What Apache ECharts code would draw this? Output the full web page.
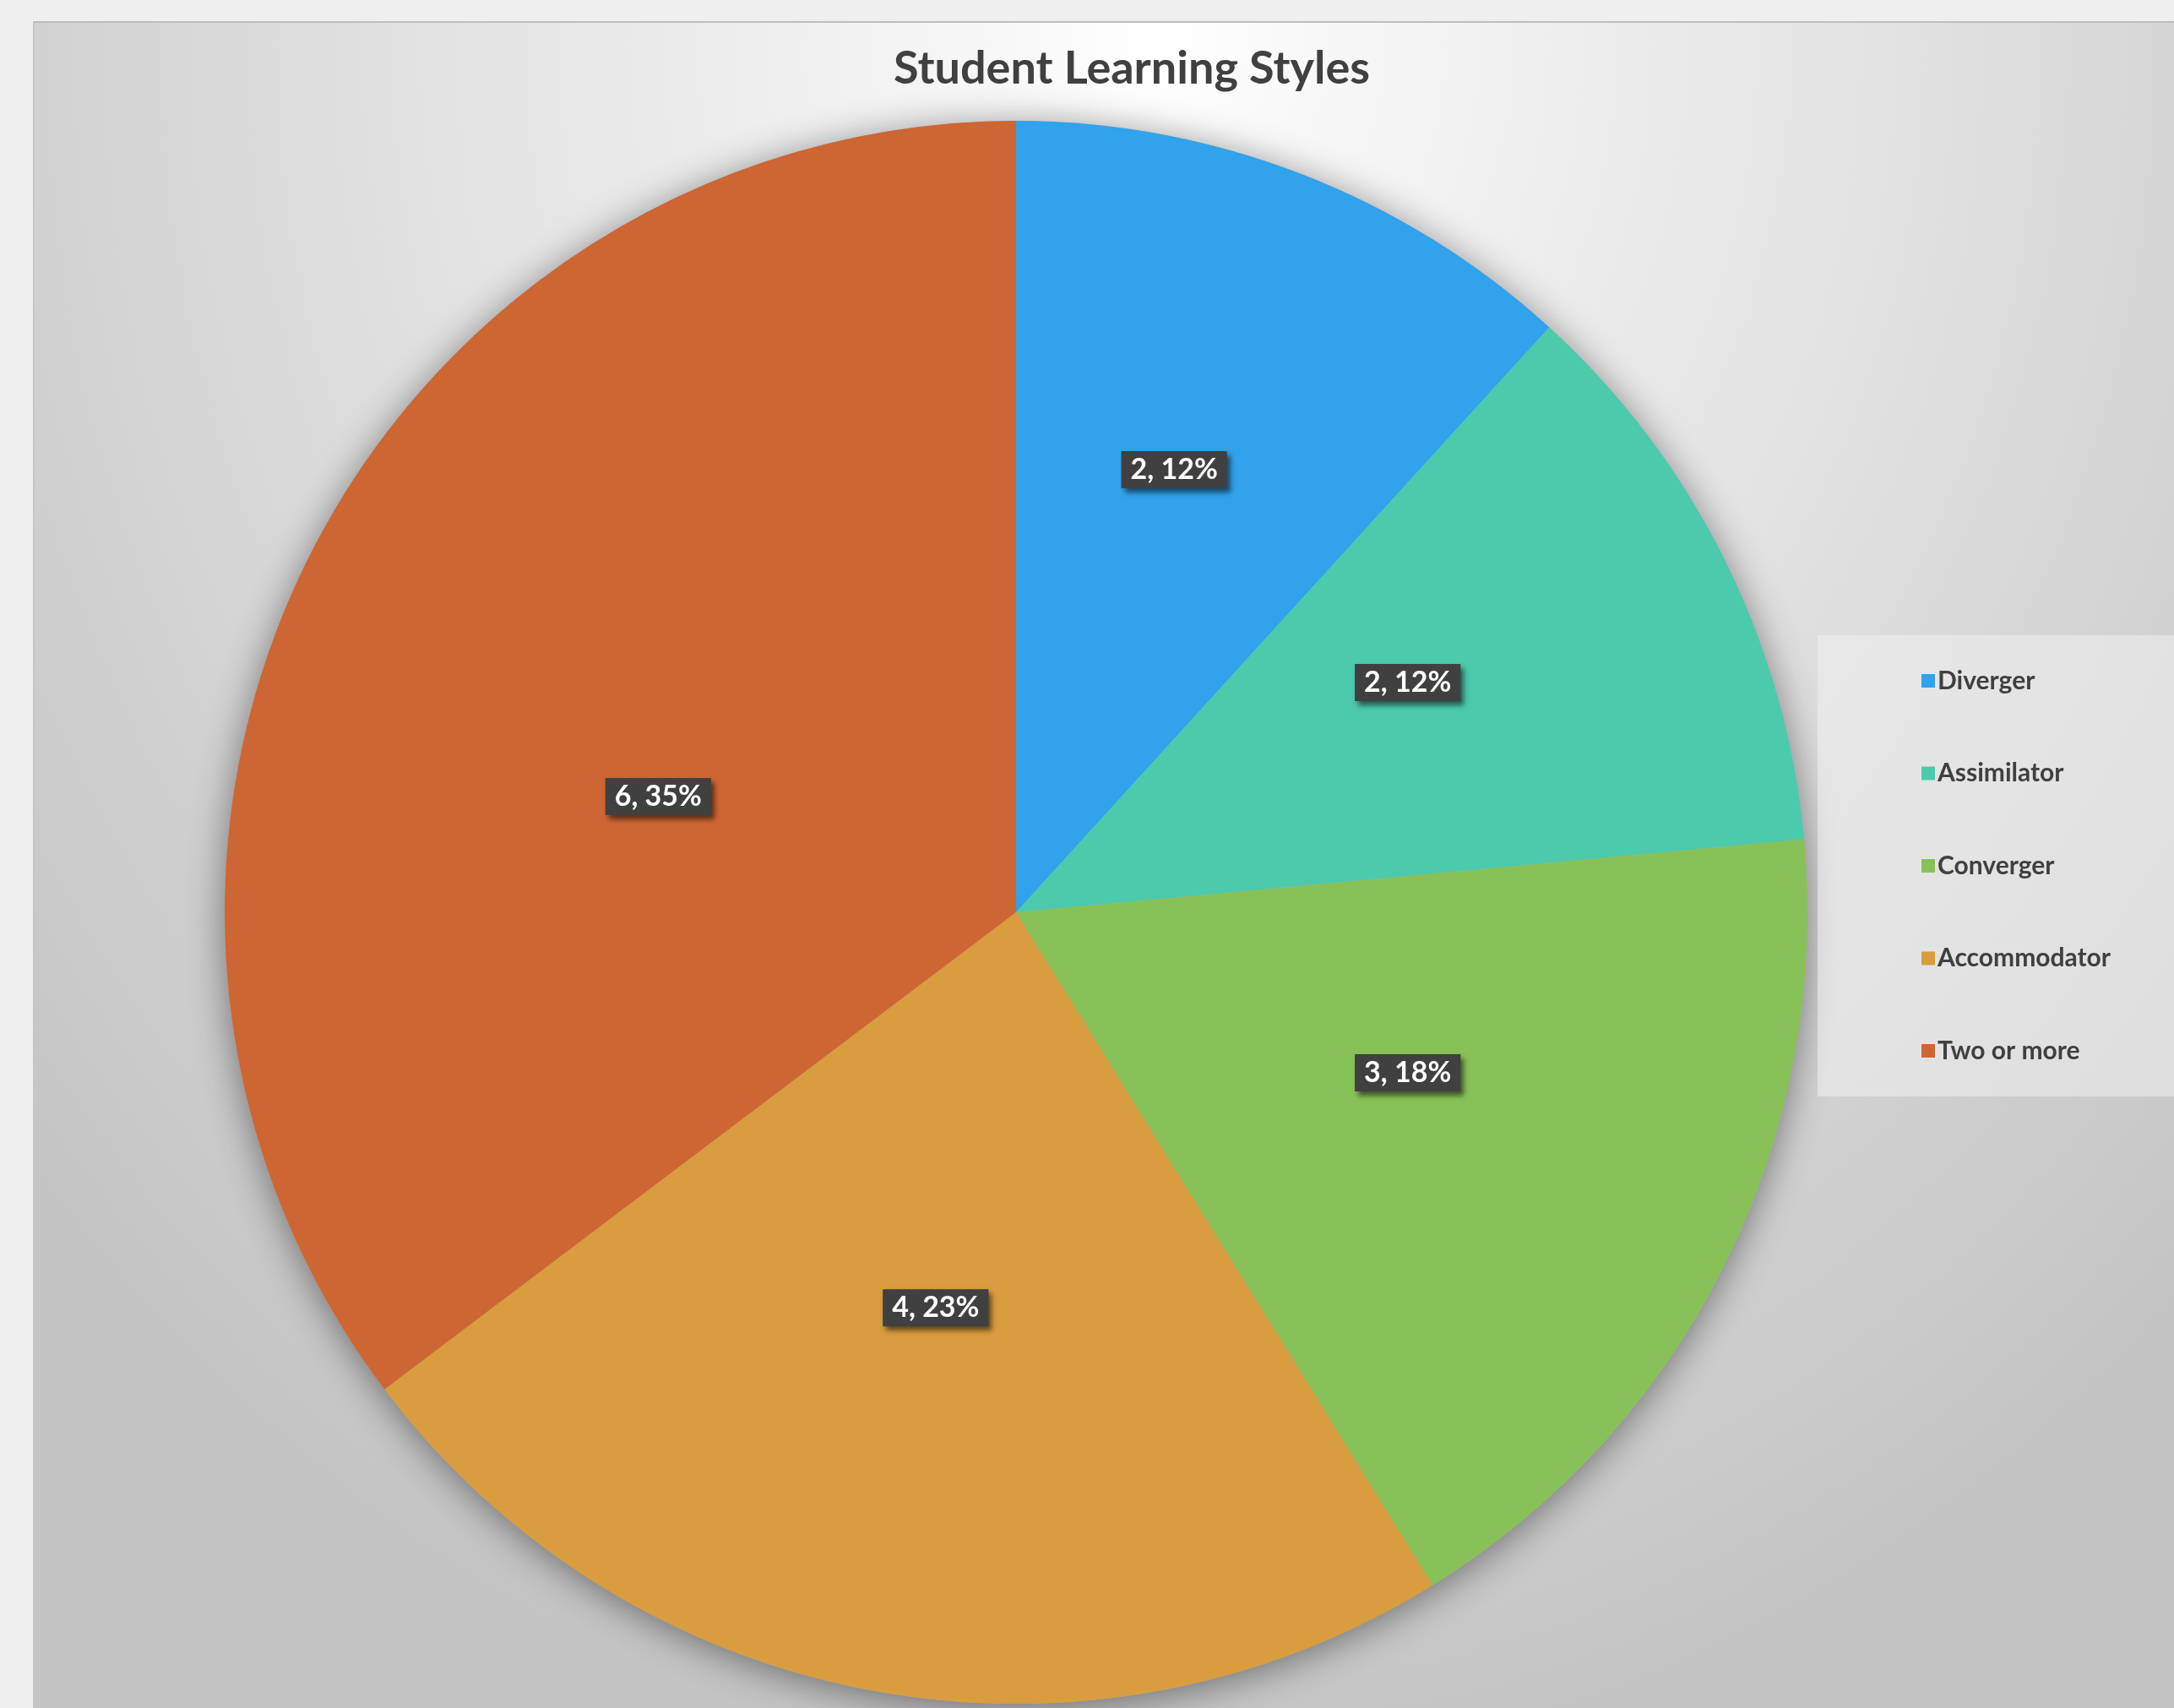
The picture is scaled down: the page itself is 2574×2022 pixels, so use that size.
<!DOCTYPE html>
<html>
<head>
<meta charset="utf-8">
<script src="https://cdn.jsdelivr.net/npm/echarts@6/dist/echarts.min.js"></script>
<style>
  html, body { margin: 0; padding: 0; width: 2574px; height: 2022px; background: #efefef; overflow: hidden; }
  #panel { position: absolute; left: 39px; top: 25px; width: 2535px; height: 1997px;
    border-top: 2px solid #bdbdbd; border-left: 2px solid #c6c6c6; box-sizing: border-box;
    background: radial-gradient(ellipse 1750px 2050px at 1330px 20px, #ffffff 0%, #f3f3f3 18%, #e2e2e2 50%, #d2d2d2 75%, #c4c4c4 100%); }
  #chart { position: absolute; left: 0; top: 0; width: 2574px; height: 2022px; }
</style>
</head>
<body>
<div id="panel"></div>
<div id="chart"></div>
<script>
const titleText = 'Student Learning Styles';
const categories = ['Diverger', 'Assimilator', 'Converger', 'Accommodator', 'Two or more'];
const values = [2, 2, 3, 4, 6];
const colors = ['#31A2EC', '#4BCAAC', '#88C158', '#D99C3F', '#CE6633'];

const FONT = 'Lato, "Open Sans", sans-serif';
const pieData = categories.map((c, i) => ({ name: c, value: values[i], itemStyle: { color: colors[i] } }));
const total = values.reduce((a, b) => a + b, 0);

const chart = echarts.init(document.getElementById('chart'), null, { renderer: 'canvas' });
chart.setOption({
  backgroundColor: 'transparent',
  animation: false,
  title: {
    text: titleText,
    left: 1335,
    top: 50,
    textAlign: 'center',
    textStyle: { fontFamily: FONT, fontWeight: 'bold', fontSize: 54, color: '#404040' }
  },
  legend: {
    orient: 'vertical',
    left: 2152,
    top: 752,
    data: categories,
    icon: 'rect',
    itemWidth: 16,
    itemHeight: 16,
    itemGap: 79.5,
    padding: [39, 100, 39, 123],
    backgroundColor: 'rgba(240,240,240,0.55)',
    textStyle: { fontFamily: FONT, fontWeight: 'bold', fontSize: 30, lineHeight: 30, color: '#404040', padding: [0, 0, 0, -2] },
    selectedMode: false
  },
  series: [
    {
      name: 'shadow',
      type: 'pie',
      center: [1203, 1080],
      radius: 937,
      silent: true,
      z: 1,
      label: { show: false },
      labelLine: { show: false },
      itemStyle: { color: '#b0b0b0', shadowBlur: 45, shadowColor: 'rgba(0,0,0,0.45)', shadowOffsetY: 6 },
      data: [{ name: 'shadow', value: total }]
    },
    {
      name: 'Learning Styles',
      type: 'pie',
      center: [1203, 1080],
      radius: 937,
      startAngle: 90,
      clockwise: true,
      z: 2,
      label: { show: false },
      labelLine: { show: false },
      emphasis: { disabled: true },
      itemStyle: { borderWidth: 0 },
      data: pieData
    },
    {
      name: 'labels',
      type: 'pie',
      center: [1203, 1080],
      radius: 1030,
      startAngle: 90,
      clockwise: true,
      silent: true,
      z: 3,
      percentPrecision: 0,
      itemStyle: { color: 'rgba(0,0,0,0)' },
      emphasis: { disabled: true },
      labelLine: { show: false },
      labelLayout: function (p) {
        // Excel "best fit" nudges the largest slice's label; others sit slightly above mid-radius
        return p.dataIndex === 4 ? { dx: 40, dy: 94 } : { dy: -41 };
      },
      label: {
        show: true,
        position: 'inside',
        formatter: '{c}, {d}%',
        fontFamily: FONT,
        fontWeight: 'bold',
        fontSize: 34,
        color: '#ffffff',
        backgroundColor: '#404040',
        padding: [6, 11, 4, 11],
        shadowColor: 'rgba(0,0,0,0.55)',
        shadowBlur: 6,
        shadowOffsetX: 4,
        shadowOffsetY: 5
      },
      data: categories.map((c, i) => ({ name: c, value: values[i] }))
    }
  ]
});
</script>
</body>
</html>
